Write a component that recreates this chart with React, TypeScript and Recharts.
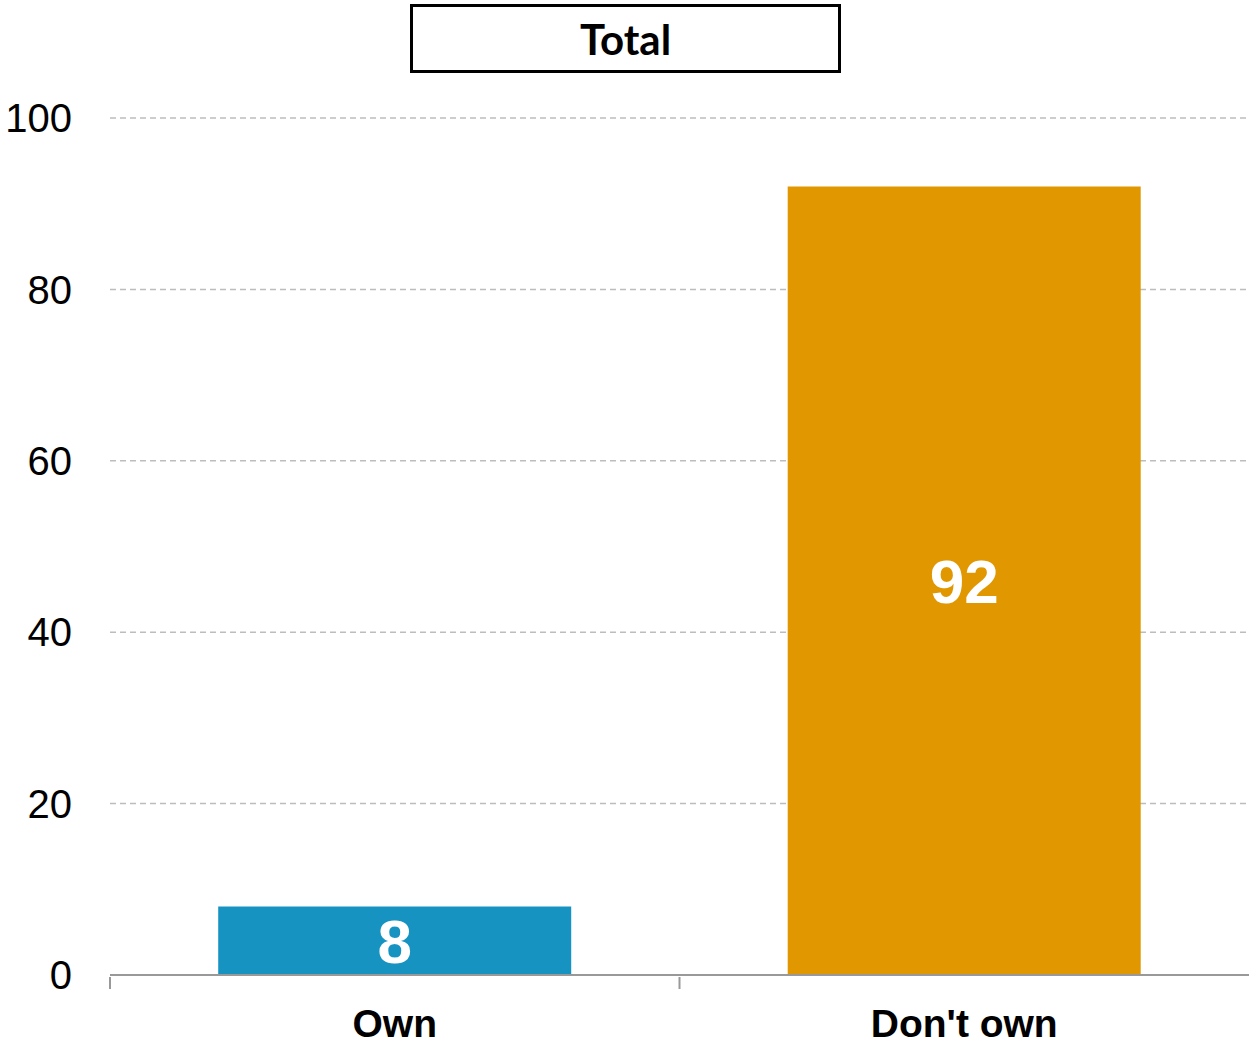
import { Bar, BarChart, CartesianGrid, Cell, LabelList, XAxis, YAxis } from "recharts";

const categories = ["Own", "Don't own"];
const values = [8, 92];
const barColors = ["#1793c1", "#e09700"];
const yTicks = [0, 20, 40, 60, 80, 100];

const data = categories.map((name, i) => ({ name, value: values[i] }));

// category label plus a small tick line at the left edge of each category band
function CategoryTick(props: any) {
  const { x, y, payload } = props;
  const half = payload?.offset ?? 0;
  return (
    <g>
      <line x1={x - half} y1={y} x2={x - half} y2={y + 12} stroke="#999" strokeWidth={2} />
      <text
        x={x}
        y={y + 32}
        dy="0.71em"
        textAnchor="middle"
        fontFamily="'Liberation Sans', Arial, sans-serif"
        fontWeight={700}
        fontSize={39}
        fill="#000"
      >
        {payload.value}
      </text>
    </g>
  );
}

export default function App() {
  return (
    <div style={{ position: "absolute", left: 0, top: 0, width: 1249, height: 1046, background: "#fff", overflow: "hidden" }}>
      <div
        style={{
          position: "absolute",
          left: 410,
          top: 4,
          width: 431,
          height: 69,
          boxSizing: "border-box",
          border: "3px solid #000",
          display: "flex",
          alignItems: "center",
          justifyContent: "center",
          fontFamily: "Lato, 'Open Sans', sans-serif",
          fontWeight: 700,
          fontSize: 42,
          color: "#000",
        }}
      >
        Total
      </div>
      <BarChart
        width={1249}
        height={1046}
        data={data}
        margin={{ top: 118, right: 0, bottom: 0, left: 0 }}
        barCategoryGap="19%"
      >
        <CartesianGrid vertical={false} stroke="#bdbdbd" strokeDasharray="6 4" strokeWidth={1.5} />
        <XAxis
          dataKey="name"
          height={71}
          axisLine={{ stroke: "#999", strokeWidth: 2 }}
          tickLine={false}
          tickSize={0}
          tick={<CategoryTick />}
          interval={0}
        />
        <YAxis
          width={110}
          domain={[0, 100]}
          ticks={yTicks}
          axisLine={false}
          tickLine={false}
          tickSize={0}
          tickMargin={38}
          tick={{ fontFamily: "'Liberation Sans', Arial, sans-serif", fontSize: 40, fill: "#000" }}
        />
        <Bar dataKey="value" isAnimationActive={false}>
          {data.map((d, i) => (
            <Cell key={d.name} fill={barColors[i]} />
          ))}
          <LabelList
            dataKey="value"
            position="center"
            fill="#fff"
            fontFamily="'Liberation Sans', Arial, sans-serif"
            fontWeight={700}
            fontSize={62}
          />
        </Bar>
      </BarChart>
    </div>
  );
}
